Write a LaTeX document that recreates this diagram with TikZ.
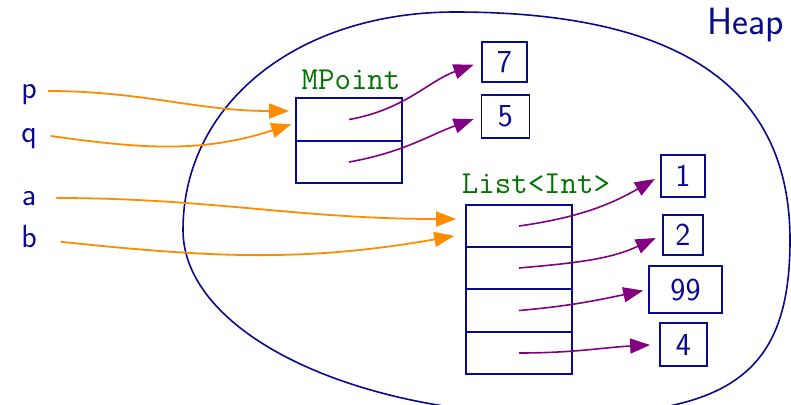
\documentclass[tikz,border=0pt]{standalone}
\usetikzlibrary{arrows.meta}
\definecolor{heapblue}{RGB}{10,10,140}
\definecolor{typegreen}{RGB}{0,115,0}
\definecolor{refpurple}{RGB}{130,0,130}
\definecolor{varorange}{RGB}{255,140,0}
\begin{document}
\begin{tikzpicture}[x=0.5pt,y=0.5pt,
  cell/.style={draw=heapblue, line width=0.9pt, minimum width=53pt,
    minimum height=21.25pt, inner sep=0pt},
  valbox/.style={draw=heapblue, line width=0.9pt, inner sep=0pt, text=heapblue,
    font=\sffamily\fontsize{16}{19}\selectfont},
  varname/.style={text=heapblue, font=\sffamily\fontsize{16}{19}\selectfont,
    anchor=base, text height=7pt, text depth=0pt},
  typename/.style={text=typegreen, font=\ttfamily\fontsize{16}{19}\selectfont, anchor=base},
  varref/.style={draw=varorange, line width=0.9pt, -{Triangle[length=10pt,width=7.5pt]}},
  fieldref/.style={draw=refpurple, line width=0.8pt, -{Triangle[length=10pt,width=7.5pt]}}]

\useasboundingbox (0,0) rectangle (791,404);
\clip (0,0) rectangle (791,404);

% the heap region
\draw[heapblue, line width=0.8pt]
  (183,174) .. controls (183,300) and (297,392) .. (455,392)
            .. controls (679,392) and (790,317) .. (790,164)
            .. controls (790,33) and (733,-11) .. (560,-11)
            .. controls (352,-11) and (183,72) .. cycle;
\node[anchor=base, text=heapblue, font=\sffamily\fontsize{19}{23}\selectfont]
  (heap) at (746,370) {Heap};

% variables
\node[varname] (p) at (29,306) {p};
\node[varname] (q) at (29,262) {q};
\node[varname] (a) at (29,199) {a};
\node[varname] (b) at (29,157) {b};

% MPoint object
\node[typename] (mpt) at (351,315) {MPoint};
\node[cell] (m1) at (349,284.5) {};
\node[cell] (m2) at (349,242) {};

% List<Int> object
\node[typename] (lst) at (536,211) {List<Int>};
\node[cell] (l1) at (519,178) {};
\node[cell] (l2) at (519,136) {};
\node[cell] (l3) at (519,93.5) {};
\node[cell] (l4) at (519,51) {};

% boxed values
\node[valbox, minimum width=22.5pt, minimum height=20pt]   (v7)  at (504.5,342)  {7};
\node[valbox, minimum width=24pt,   minimum height=21.5pt] (v5)  at (505.5,287.5) {5};
\node[valbox, minimum width=22pt,   minimum height=21pt]   (v1)  at (683,228)    {1};
\node[valbox, minimum width=20pt,   minimum height=20pt]   (v2)  at (683,169)    {2};
\node[valbox, minimum width=36.5pt, minimum height=23.5pt] (v99) at (685.5,114.5) {99};
\node[valbox, minimum width=23.5pt, minimum height=21.5pt] (v4)  at (683.5,59.5)  {4};

% references held by the variables
\draw[varref, shorten <=2pt, shorten >=3pt]
  (p.east) to[out=0, in=180] ([yshift=4.25pt]m1.west);
\draw[varref, shorten <=3.5pt, shorten >=2pt]
  (q.east) to[out=-8, in=198] ([yshift=-1.75pt]m1.west);
\draw[varref, shorten <=6.5pt, shorten >=4.5pt]
  (a.east) to[out=0, in=180] ([yshift=3.5pt]l1.west);
\draw[varref, shorten <=8.5pt, shorten >=5.5pt]
  (b.east) to[out=-6, in=190] ([yshift=-4pt]l1.west);

% references held by the fields
\draw[fieldref, shorten >=4pt]   (m1.center) to[out=10, in=200] (v7.west);
\draw[fieldref, shorten >=3.75pt] (m2.center) to[out=10, in=200] (v5.west);
\draw[fieldref, shorten >=3pt]   (l1.center) to[out=8, in=210] (v1.west);
\draw[fieldref, shorten >=3.5pt] (l2.center) to[out=5, in=205] (v2.west);
\draw[fieldref, shorten >=2.5pt] (l3.center) to[out=5, in=192] (v99.west);
\draw[fieldref, shorten >=4.5pt] (l4.center) to[out=0, in=183] (v4.west);
\end{tikzpicture}
\end{document}
